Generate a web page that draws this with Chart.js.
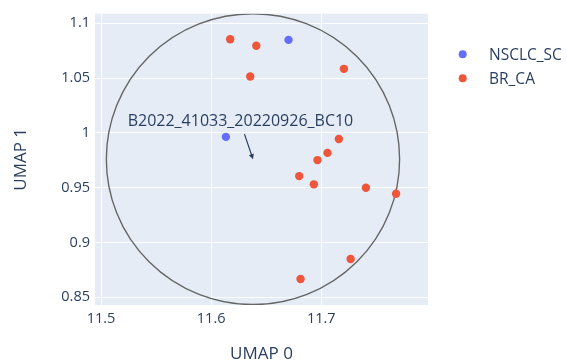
<!DOCTYPE html>
<html>
<head>
<meta charset="utf-8">
<script src="https://cdn.jsdelivr.net/npm/chart.js@4/dist/chart.umd.min.js"></script>
<style>
  html,body{margin:0;padding:0;background:#fff;}
  #wrap{width:567px;height:363px;position:relative;}
</style>
</head>
<body>
<div id="wrap"><canvas id="c" width="567" height="363"></canvas></div>
<script>
// ---- data ----
const nsclcX = [11.6703, 11.6134];
const nsclcY = [1.0849, 0.9964];
const brcaX = [11.6173, 11.6410, 11.6355, 11.7206, 11.7160, 11.7057, 11.6966, 11.6800, 11.6933, 11.7406, 11.7680, 11.7267, 11.6812];
const brcaY = [1.0855, 1.0795, 1.0515, 1.0585, 0.9945, 0.9818, 0.9752, 0.9606, 0.9531, 0.9500, 0.9445, 0.8850, 0.8667];
const seriesNames = ['NSCLC_SC', 'BR_CA'];
const xTicks = [11.5, 11.6, 11.7];
const xTickLabels = ['11.5', '11.6', '11.7'];
const yTicks = [0.85, 0.9, 0.95, 1, 1.05, 1.1];
const yTickLabels = ['0.85', '0.9', '0.95', '1', '1.05', '1.1'];
const xRange = [11.4945, 11.797];
const yRange = [0.843, 1.1088];
const circleCenter = [11.638, 0.9761];
const circleRadius = [0.1332, 0.1327];
const annotationText = 'B2022_41033_20220926_BC10';
const annotationPoint = [11.638, 0.9761];
const xTitle = 'UMAP 0';
const yTitle = 'UMAP 1';

const FONT = "'Open Sans', 'Noto Sans', sans-serif";
const TXT = '#2a3f5f';
const colors = ['#636efa', '#EF553B'];

const toPts = (xs, ys) => xs.map((x, i) => ({x, y: ys[i]}));

const decor = {
  id: 'decor',
  beforeDatasetsDraw(chart) {
    const {ctx, chartArea: a, scales: {x, y}} = chart;
    const cx = x.getPixelForValue(circleCenter[0]);
    const cy = y.getPixelForValue(circleCenter[1]);
    const rx = Math.abs(x.getPixelForValue(circleCenter[0] + circleRadius[0]) - cx);
    const ry = Math.abs(y.getPixelForValue(circleCenter[1] + circleRadius[1]) - cy);
    ctx.save();
    ctx.beginPath();
    ctx.rect(a.left, a.top, a.right - a.left, a.bottom - a.top);
    ctx.clip();
    ctx.beginPath();
    ctx.ellipse(cx, cy, rx, ry, 0, 0, Math.PI * 2);
    ctx.strokeStyle = '#666666';
    ctx.lineWidth = 1.4;
    ctx.stroke();
    ctx.restore();
  },
  afterDraw(chart) {
    const {ctx, chartArea: a, scales: {x, y}} = chart;
    ctx.save();
    const px = x.getPixelForValue(annotationPoint[0]);
    const py = y.getPixelForValue(annotationPoint[1]);
    const tx = px - 12.5, ty = py - 38;
    ctx.font = '16px ' + FONT;
    ctx.fillStyle = TXT;
    ctx.textAlign = 'center';
    ctx.textBaseline = 'middle';
    ctx.fillText(annotationText, tx, ty);
    const sx = px - 8.5, sy = py - 25;
    const ang = Math.atan2(py - sy, px - sx);
    ctx.strokeStyle = TXT;
    ctx.fillStyle = TXT;
    ctx.lineWidth = 1.2;
    ctx.beginPath();
    ctx.moveTo(sx, sy);
    ctx.lineTo(px - 3 * Math.cos(ang), py - 3 * Math.sin(ang));
    ctx.stroke();
    ctx.beginPath();
    const hl = 5, hw = 2.6;
    ctx.moveTo(px, py);
    ctx.lineTo(px - hl * Math.cos(ang) + hw * Math.sin(ang), py - hl * Math.sin(ang) - hw * Math.cos(ang));
    ctx.lineTo(px - hl * Math.cos(ang) - hw * Math.sin(ang), py - hl * Math.sin(ang) + hw * Math.cos(ang));
    ctx.closePath();
    ctx.fill();
    ctx.font = '17px ' + FONT;
    ctx.fillStyle = TXT;
    ctx.textAlign = 'center';
    ctx.textBaseline = 'middle';
    ctx.fillText(xTitle, (a.left + a.right) / 2, 354);
    ctx.save();
    ctx.translate(21.5, (a.top + a.bottom) / 2);
    ctx.rotate(-Math.PI / 2);
    ctx.fillText(yTitle, 0, 0);
    ctx.restore();
    ctx.font = '15.5px ' + FONT;
    ctx.textAlign = 'left';
    chart.data.datasets.forEach((ds, i) => {
      const ly = 54.3 + i * 24;
      ctx.beginPath();
      ctx.arc(462.7, ly, 4, 0, Math.PI * 2);
      ctx.fillStyle = ds.backgroundColor;
      ctx.fill();
      ctx.fillStyle = TXT;
      ctx.fillText(ds.label, 489, ly + 1);
    });
    ctx.restore();
  }
};

const bgPlugin = {
  id: 'bg',
  beforeDraw(chart) {
    const {ctx, chartArea: a} = chart;
    ctx.save();
    ctx.fillStyle = '#E5ECF6';
    ctx.fillRect(a.left, a.top, a.right - a.left, a.bottom - a.top);
    ctx.restore();
  }
};

new Chart(document.getElementById('c'), {
  type: 'scatter',
  data: {
    datasets: [
      {label: seriesNames[0], data: toPts(nsclcX, nsclcY), backgroundColor: colors[0], borderWidth: 0, pointRadius: 4.2},
      {label: seriesNames[1], data: toPts(brcaX, brcaY), backgroundColor: colors[1], borderWidth: 0, pointRadius: 4.2}
    ]
  },
  options: {
    responsive: false,
    animation: false,
    layout: {padding: {left: 0, top: 12, right: 139, bottom: 0}},
    plugins: {legend: {display: false}, tooltip: {enabled: false}},
    scales: {
      x: {
        type: 'linear', min: xRange[0], max: xRange[1],
        afterBuildTicks: s => { s.ticks = xTicks.map(v => ({value: v})); },
        afterFit: s => { s.height = 58; },
        grid: {color: '#ffffff', lineWidth: 1, drawTicks: false},
        border: {display: false},
        ticks: {
          padding: 5, color: TXT, font: {family: FONT, size: 14.5},
          maxRotation: 0, autoSkip: false,
          callback: (v, i) => xTickLabels[i]
        }
      },
      y: {
        type: 'linear', min: yRange[0], max: yRange[1],
        afterBuildTicks: s => { s.ticks = yTicks.map(v => ({value: v})); },
        afterFit: s => { s.width = 95; },
        grid: {color: '#ffffff', lineWidth: 1, drawTicks: false},
        border: {display: false},
        ticks: {
          padding: 5, color: TXT, font: {family: FONT, size: 14.5},
          autoSkip: false,
          callback: (v, i) => yTickLabels[i]
        }
      }
    }
  },
  plugins: [bgPlugin, decor]
});
</script>
</body>
</html>
